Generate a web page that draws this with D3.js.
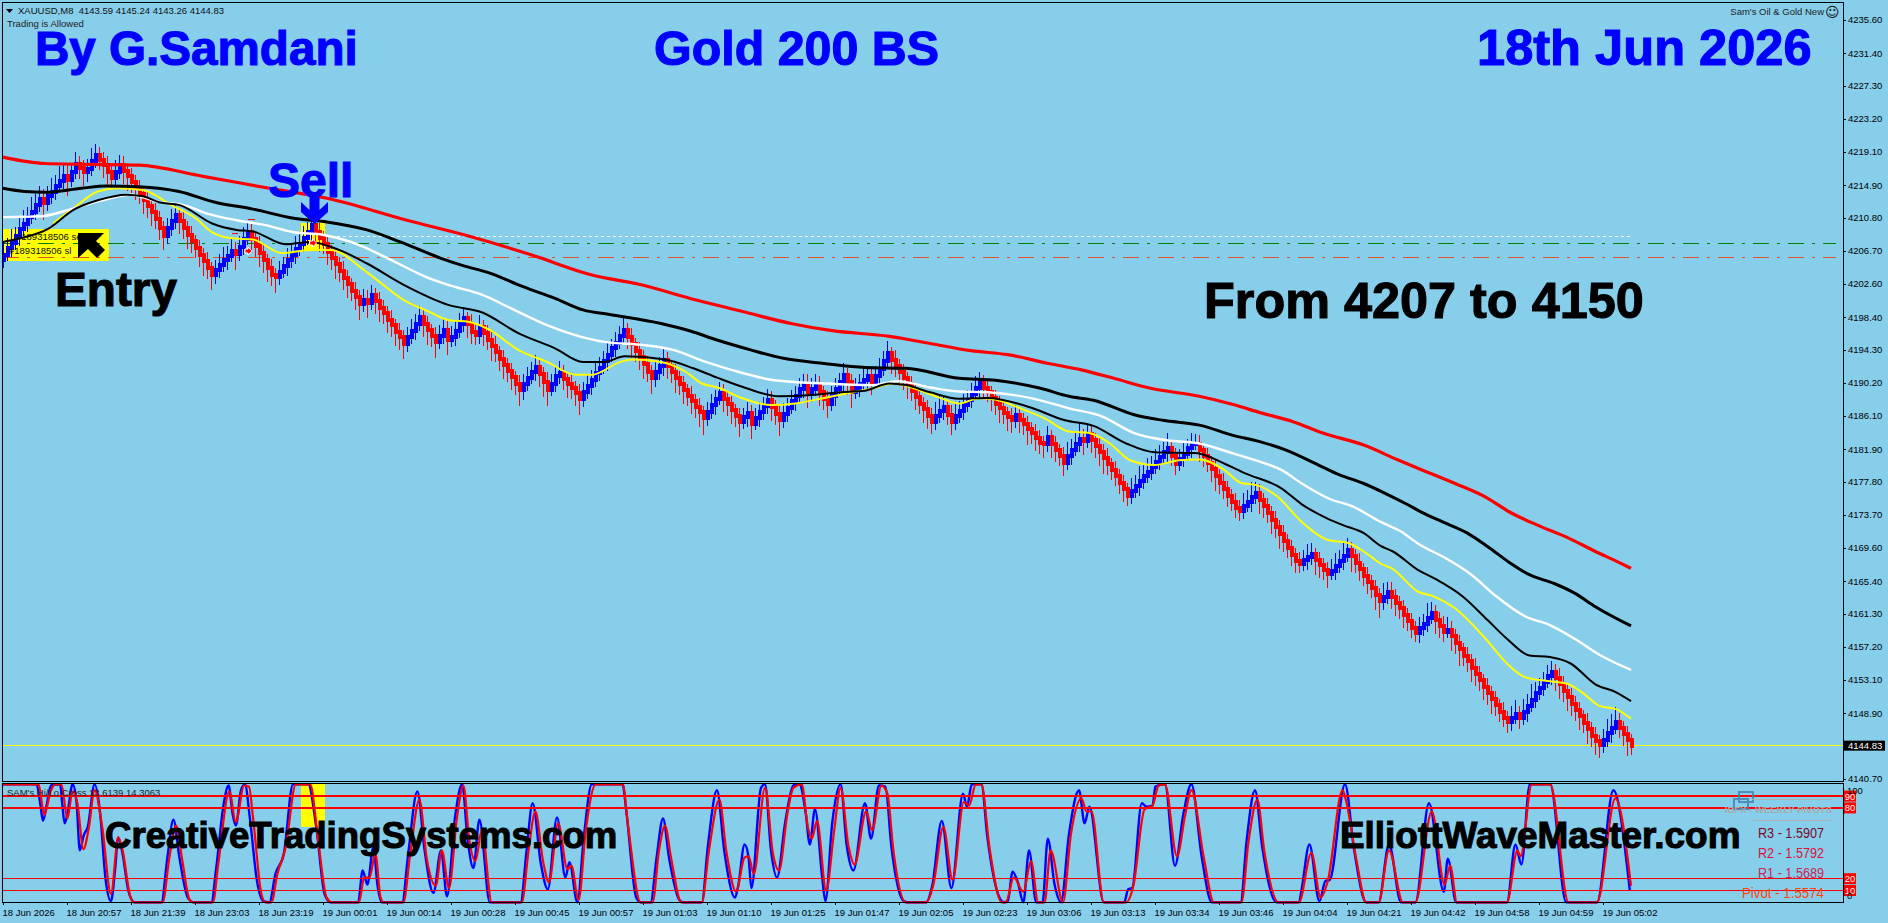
<!DOCTYPE html>
<html>
<head>
<meta charset="utf-8">
<title>XAUUSD M8 Gold 200 BS</title>
<script src="https://cdn.jsdelivr.net/npm/d3@7/dist/d3.min.js"></script>
<style>
  html, body { margin: 0; padding: 0; background: #87ceeb; overflow: hidden; }
  svg { display: block; font-family: "Liberation Sans", Arial, sans-serif; }
  .tick text { font-family: "Liberation Sans", Arial, sans-serif; }
</style>
</head>
<body>
<svg id="chart" width="1888" height="923"></svg>
<script>
// Closing price of every bar on the M8 chart, oldest first.
const closes = [
4206.2,4207.0,4207.7,4208.5,4209.4,4210.1,4210.9,4211.6,4212.4,4213.2,
4212.7,4213.5,4214.1,4214.8,4215.4,4216.1,4215.6,4216.5,4217.5,4217.0,
4216.5,4216.9,4217.9,4218.7,4218.1,4217.4,4216.5,4215.8,4216.6,4217.4,
4216.7,4216.0,4215.3,4214.6,4213.8,4213.1,4212.3,4211.5,4210.7,4209.6,
4208.6,4209.5,4210.4,4211.2,4210.4,4209.5,4208.7,4207.9,4207.0,4206.2,
4205.4,4204.5,4203.7,4204.3,4204.9,4205.5,4206.1,4206.7,4206.3,4207.2,
4208.2,4209.1,4208.2,4207.3,4206.4,4205.5,4204.6,4203.7,4203.4,4204.1,
4204.8,4205.5,4206.2,4206.9,4207.6,4208.3,4209.1,4209.9,4209.1,4208.3,
4207.5,4206.6,4205.8,4205.0,4204.2,4203.3,4202.5,4201.7,4200.9,4200.1,
4200.6,4200.2,4201.2,4200.4,4199.6,4198.9,4198.1,4197.4,4196.6,4195.9,
4195.1,4195.9,4196.7,4197.6,4198.4,4197.6,4196.8,4196.1,4195.3,4196.1,
4196.8,4195.5,4195.9,4196.7,4197.5,4198.3,4197.6,4196.6,4196.2,4197.2,
4196.4,4195.6,4194.8,4194.0,4193.2,4192.4,4191.7,4190.9,4190.1,4189.3,
4190.1,4190.8,4191.5,4192.2,4191.3,4190.3,4189.3,4190.1,4191.0,4191.4,
4190.7,4190.1,4189.5,4188.9,4188.2,4189.0,4189.8,4190.6,4191.4,4192.1,
4192.9,4193.7,4194.5,4195.2,4196.0,4196.8,4195.9,4195.0,4194.2,4193.4,
4192.5,4191.6,4190.8,4191.5,4192.3,4193.0,4192.3,4191.5,4190.8,4190.1,
4189.3,4188.6,4187.9,4187.2,4186.5,4185.8,4186.6,4187.4,4188.2,4188.9,
4188.2,4187.5,4186.8,4186.0,4185.3,4185.9,4186.4,4185.1,4185.8,4186.5,
4187.3,4188.0,4187.2,4186.3,4185.5,4186.3,4187.1,4187.9,4188.6,4189.4,
4190.1,4188.8,4189.4,4189.9,4189.0,4188.2,4187.6,4188.5,4189.4,4190.3,
4191.2,4190.3,4189.0,4189.5,4190.0,4190.5,4191.0,4190.3,4191.0,4191.9,
4192.9,4193.9,4193.1,4192.3,4191.5,4190.8,4190.0,4189.2,4188.4,4187.6,
4186.9,4186.1,4185.3,4186.0,4186.7,4187.2,4186.2,4185.3,4186.0,4186.7,
4187.4,4188.1,4188.8,4189.5,4190.3,4189.6,4189.0,4188.3,4187.6,4187.0,
4186.4,4185.9,4185.5,4186.2,4185.6,4185.0,4184.4,4183.9,4183.3,4182.7,
4182.6,4183.4,4182.6,4181.8,4181.0,4180.2,4181.0,4181.8,4182.5,4183.2,
4182.9,4183.8,4183.1,4182.3,4181.6,4180.8,4180.0,4179.3,4178.5,4177.7,
4176.9,4176.1,4176.7,4177.3,4177.9,4178.5,4179.1,4179.7,4180.3,4180.9,
4181.5,4182.0,4181.0,4180.0,4180.7,4181.3,4182.0,4182.6,4182.6,4181.8,
4181.0,4180.2,4179.4,4178.5,4177.7,4176.9,4176.1,4175.3,4174.6,4174.2,
4174.8,4175.3,4175.9,4176.4,4175.6,4174.8,4173.9,4173.0,4172.2,4171.3,
4170.4,4169.6,4168.7,4167.9,4167.6,4168.0,4168.4,4168.8,4168.0,4167.4,
4166.8,4166.3,4166.7,4167.3,4167.9,4168.6,4169.3,4168.5,4167.7,4166.9,
4166.1,4165.3,4164.5,4163.7,4162.9,4163.4,4164.1,4163.4,4162.7,4162.0,
4161.2,4160.4,4159.6,4158.9,4159.5,4160.1,4160.8,4161.4,4160.6,4159.8,
4159.1,4159.3,4158.5,4157.7,4156.9,4156.1,4155.4,4154.6,4153.8,4153.0,
4152.2,4151.4,4150.7,4149.9,4149.1,4148.3,4147.8,4148.3,4148.8,4148.3,
4149.0,4149.8,4150.6,4151.4,4152.1,4152.8,4153.5,4154.1,4153.3,4152.5,
4151.7,4150.9,4150.1,4149.3,4148.5,4147.7,4146.9,4146.1,4145.4,4144.9,
4145.6,4146.4,4147.1,4147.8,4147.0,4146.3,4145.5,4144.83
];

// Wick lengths per bar, in tenths of a dollar: past the close, and back past the open.
const wickPastClose = [
12,9,14,8,11,13,9,15,10,12,18,9,13,10,15,11,17,8,12,10,
14,9,13,10,9,12,14,10,11,9,13,15,10,12,9,14,11,13,9,12,
15,10,12,9,13,10,14,11,9,12,15,10,16,9,11,13,8,12,16,10,
11,9,13,10,14,12,15,11,16,10,8,12,9,13,10,11,9,12,10,14,
9,13,11,15,10,12,14,9,13,17,10,15,9,12,14,10,13,11,15,12,
16,9,11,8,10,13,15,11,16,10,12,15,10,9,11,10,14,12,9,11,
13,10,15,9,12,14,10,13,11,17,8,10,9,11,13,15,17,9,10,12,
11,14,10,13,17,9,11,8,12,10,9,11,8,10,9,12,11,14,10,13,
15,10,16,9,8,11,13,10,15,11,14,9,12,10,15,18,9,11,8,10,
13,11,14,10,15,8,11,16,9,10,8,11,14,10,16,10,9,11,8,10,
9,14,11,10,13,11,15,9,10,8,11,13,16,9,10,12,9,13,10,11,
9,12,14,10,13,11,15,9,12,10,14,13,11,15,17,10,9,13,15,9,
11,8,10,12,9,10,8,13,11,15,10,14,12,9,13,10,16,10,13,11,
15,10,14,12,9,13,15,10,12,17,14,9,13,11,15,17,10,9,8,10,
13,9,12,10,15,11,14,10,13,12,9,16,8,10,9,11,8,10,9,11,
10,8,13,15,10,9,11,8,10,9,13,11,15,10,14,12,9,13,11,15,
10,9,10,11,8,10,13,10,15,12,9,14,11,13,10,15,12,16,9,11,
10,12,9,15,17,14,9,11,13,10,13,9,10,8,11,9,15,11,14,12,
10,13,15,11,17,9,10,14,12,10,13,11,15,10,9,8,10,12,14,10,
13,11,16,10,8,9,11,10,13,15,11,14,12,10,13,9,15,11,14,12,
10,14,13,15,9,11,16,8,10,11,9,12,8,10,9,11,13,15,10,14,
12,9,13,11,15,10,14,17,11,8,9,10,14,11,16
];
const wickPastOpen = [
4,2,5,3,6,2,4,3,5,2,6,4,3,5,2,4,7,3,2,5,
4,6,3,2,4,3,5,2,4,3,6,2,5,3,4,2,5,3,6,4,
2,5,3,4,2,6,3,5,2,4,3,6,2,5,4,3,6,2,5,3,
4,2,5,3,6,4,2,5,3,4,2,6,3,5,2,4,3,6,2,5,
3,4,2,5,3,6,4,2,5,3,4,6,3,2,5,4,3,6,2,5,
3,4,2,5,3,6,4,2,5,3,4,6,2,5,3,4,2,6,3,5,
2,4,3,6,2,5,3,4,2,5,6,3,2,5,4,3,6,2,5,3,
4,2,5,3,6,4,2,5,3,4,2,6,3,5,2,4,3,6,2,5,
3,4,2,5,3,6,4,2,5,3,4,2,6,3,5,2,4,3,6,2,
5,3,4,2,5,3,6,4,2,5,3,4,6,2,5,3,4,2,6,3,
5,6,4,3,5,2,4,3,6,2,5,3,4,2,5,3,6,4,2,5,
3,4,2,6,3,5,2,4,3,6,2,5,3,4,2,5,3,6,4,2,
5,3,4,2,6,3,5,2,4,3,6,2,5,3,4,2,5,3,6,4,
2,5,3,4,2,6,3,5,2,4,6,3,5,2,4,3,6,2,5,3,
4,2,5,3,6,4,2,5,3,4,2,6,3,5,2,4,3,6,2,5,
3,4,2,5,3,6,4,2,5,3,4,2,6,3,5,2,4,3,6,2,
5,3,4,2,5,3,6,4,2,5,3,4,2,6,3,5,2,4,3,6,
2,5,3,4,2,5,3,6,4,2,5,3,4,2,6,3,5,2,4,3,
6,2,5,3,4,2,5,3,6,4,2,5,3,4,2,6,3,5,2,4,
3,6,2,5,3,4,2,5,3,6,4,2,5,3,4,2,6,3,5,2,
4,3,6,2,5,3,4,2,5,3,6,4,2,5,3,4,2,6,3,5,
2,4,3,6,2,5,3,4,2,5,3,6,4,2,5,3,4,2,6
];

// Moving averages as [bar, price] readings.
const maRed = [[0,4218.4],[10.5,4217.6],[34,4217.4],[50,4216],[66.6,4214.5],[81,4213.25],[101,4210.5],[116.6,4208.5],[132,4206.2],[147,4203.7],[159,4202.5],
[173.6,4200.5],[184.9,4199.1],[197,4197.6],[207.3,4196.7],[221.6,4196],[231.8,4195.1],[242,4194.2],[251.2,4193.7],[261.4,4192.6],[269.6,4191.8],[277.7,4190.75],[286.9,4189.5],[299.1,4188.5],[307.3,4187.5],
[314.4,4186.45],[322.7,4185.3],[330,4183.9],[340.2,4182.4],[348.5,4180.6],[353.7,4179.5],[363,4177.6],[371.2,4175.75],[376.4,4174.1],[383.6,4172.4],[390.9,4170.9],[398.1,4169.1],[403.3,4167.9],[407,4167]];
const maBlackSlow = [[0,4214.5],[5.4,4214.1],[10.5,4214],[19.6,4214.5],[25.8,4214.8],[34,4214.7],[44,4214.1],[53,4212.75],[62.5,4211.9],[72.7,4210.75],[81,4210.3],[91,4209.3],[99.3,4207.8],[109.5,4205.75],[114.6,4204.9],[121.7,4203.9],[130,4202.2],[138,4200.75],[145,4199.3],[152,4198.7],
[164.5,4197.6],[171.6,4196.7],[178.7,4195.5],[186.9,4194.3],[195.1,4193.25],[205.3,4192.6],[215.5,4192.1],[225.7,4192],[239,4190.75],[248.1,4190.5],[259.4,4189.5],[266.5,4188.5],[272.6,4188],[282.8,4186.2],[290,4185.5],[299.1,4184.9],[307.3,4183.65],
[314.4,4182.8],[320.6,4181.8],[328.9,4179.9],[334,4178.7],[340.2,4177.6],[345.4,4176.4],[350.6,4175.1],[354.7,4174],[359.9,4172.8],[366.1,4171.4],[371.2,4169.7],[376.4,4167.8],[381.6,4166.2],[387.8,4165.1],[392.9,4163.9],[398.1,4162.2],[407,4159.8]];
const maWhite = [[0,4210.9],[9.5,4211],[17.6,4212],[24.8,4213],[31.9,4213.7],[39,4212.8],[45.2,4212.4],[51.3,4211.3],[58.4,4210.5],[65.6,4209.9],[72.7,4209],[79.9,4208.7],[87,4207.8],[96.2,4205.75],[105.4,4203.5],[111.5,4202.4],[119.7,4201.2],[127.8,4199.3],[136,4197.4],[144.1,4196],[150.3,4195.3],
[160.4,4194.9],[167.5,4194.3],[175.7,4192.8],[182.8,4191.7],[193,4190.5],[205.3,4190.1],[217.5,4189.9],[223.6,4190.4],[231.8,4189.6],[239,4189.1],[246.1,4189],[257.3,4188.25],[266.5,4187],[274.7,4186],[282.8,4183.9],[291,4183],[299.1,4182.6],[307.3,4181.4],
[314.4,4180.3],[319.6,4179.3],[324.7,4177.6],[332,4175.6],[337.1,4174.8],[344.4,4172.8],[349.5,4171.6],[353.7,4170.1],[360.9,4168.2],[367.1,4166.2],[373.3,4163.5],[380.5,4161],[386.7,4159.9],[392.9,4158.2],[399.1,4156.2],[407,4154.3]];
const maBlackFast = [[0,4207.8],[4.35,4208.25],[11.5,4209.5],[17.6,4211.8],[23.7,4213],[30.9,4213.7],[35,4213.5],[39,4212.75],[44.2,4212.4],[52.3,4210.1],[58.4,4209.3],[62.5,4209.1],[70.7,4207.5],[76.8,4207.8],[84,4206.8],[91,4205.1],[100.3,4202.4],[111.5,4199.9],[119.7,4199],[128.8,4196.4],[138,4194.5],[145,4192.8],[150.3,4192.8],[155.4,4193.5],
[165.5,4193.1],[172.6,4192],[178.7,4190.8],[185.9,4189.5],[194,4188.5],[202.2,4188.65],[209.4,4189],[215.5,4189.2],[221.6,4190.1],[225.7,4189.9],[231.8,4189],[239,4188.2],[246.1,4188.3],[256.3,4187.2],[265.5,4185.5],[272.6,4184.8],[280.8,4182.6],[287.9,4181.5],[298.1,4181.4],[305.3,4180.1],[310.4,4178.9],
[319.6,4177],[324.7,4175],[331,4173.25],[335,4172.4],[340.2,4171.4],[344.4,4169.8],[347.5,4169.1],[353.7,4166.8],[357.8,4165.75],[365,4163.45],[371.2,4160.5],[376.4,4158],[381.6,4156.1],[386.7,4155.9],[391.9,4155.1],[398.1,4152.5],[403.3,4151.5],[407,4150.4]];
const maYellow = [[12.5,4210.1],[17.6,4212],[23.7,4214.1],[28.8,4214.5],[35,4214.3],[42.1,4212.4],[48.2,4210.75],[52.3,4209],[57.4,4208.25],[62.5,4208.1],[69.7,4206.4],[76.8,4206.8],[81.9,4206.8],[91,4204],[100.3,4200.5],[106.4,4199.1],[111.5,4198],[116.6,4197.8],[121.7,4196.8],[128.8,4194.3],[136,4192.8],[143.1,4191.2],[147.2,4191.2],[154.4,4192.8],
[157.3,4193.1],[164.5,4192.8],[170.6,4191.6],[174.7,4190.1],[178.7,4189.6],[184.9,4188.25],[192,4187.4],[198.1,4187.6],[205.3,4188.3],[211.4,4188.9],[217.5,4189.5],[222.6,4190.1],[227.7,4189.5],[233.8,4188.4],[239,4187.6],[244,4188.25],[248.1,4188.1],[254.25,4187],[260.4,4185.75],[266.5,4184.1],[271.6,4183.9],[276.7,4182.6],[281.8,4180.5],[287.9,4179.9],[294,4180.5],[299.1,4180.6],[305.3,4179.3],[309.4,4177.7],
[313.4,4177.4],[318.5,4176],[324.7,4172.8],[331.5,4170.5],[336.1,4170.2],[340.2,4169.1],[344.4,4167.6],[347.5,4166.9],[353.7,4164.1],[357.8,4163.45],[363,4162],[370.2,4158.45],[376.4,4154.9],[380.5,4153.4],[384.7,4153],[390.9,4152.6],[395,4151.4],[399.1,4149.8],[403.3,4149.4],[407,4148.2]];

// Hi/Lo cross oscillator as [bar, value] readings, main and signal.
const stochMain = [[0,100],[8.4,100],[9.3,84],[10,69],[11,84],[12,99],[14.3,100],[14.8,84],[15.4,67],[16.1,75],[17.4,100],[18.4,84],[19.2,44],[20.2,57],[21.2,64],[22.9,100],[24.3,75],[25.6,21],[27,1],[28,27],[28.8,55],[29.9,41],[31.4,9],[32.9,0],[39.6,0],[41.1,38],[42.6,70],[44.1,38],[46.2,4],[47.7,0],[52.1,0],[53.3,29],[55.2,84],[56.4,99],[57.4,75],[58.2,65],[59.5,95],[60.5,100],[61.7,72],[63.5,18],[65.1,1],[66.6,0],[68.1,24],[70.2,41],[72.5,100],[76.3,100],[78.3,64],[80.4,7],[81.9,0],[88.8,0],[89.9,27],[91.1,15],[92.6,47],[93.6,15],[94.7,0],[99.8,0],[101.3,41],[103.6,94],[105.4,44],[107.6,8],[109.5,44],[111,5],[113,72],[114.8,100],[116.1,55],[117.6,29],[119.1,70],[121.7,0],[129.4,0],[130.9,44],[132.4,84],[134.5,32],[136.2,11],[138.5,72],[140.6,21],[141.6,34],[143.6,0],[145.2,55],[147.2,100],[154.9,100],
[155.8,78],[158.3,4],[159.4,0],[161.9,0],[163.4,38],[165,71],[166.5,38],[169.1,2],[170.1,0],[174.7,0],[176.2,47],[178.5,95],[180.3,44],[183,4],[183.8,14],[185.4,49],[186.4,38],[187.1,12],[189.5,97],[190.5,100],[192,44],[193.5,21],[195.6,69],[197.6,99],[199.1,100],[200.7,75],[201.7,49],[203,79],[204.8,21],[205.6,1],[207.3,67],[209.4,100],[210.9,49],[212.6,27],[215.5,84],[217,54],[219,99],[220.6,98],[222.1,47],[225.2,1],[226.2,0],[230.8,0],[232.3,14],[234.7,69],[237.1,12],[240,92],[241,81],[242.2,100],[244.6,100],[246.1,55],[249.1,4],[250.2,0],[251.2,1],[252.4,26],[253.7,17],[255.1,0],[256.5,44],[258.3,0],[259.9,0],[261.2,54],[262.9,15],[264.5,0],[266.5,58],[269,95],[270.4,67],[271.6,81],[275.2,0],[280.3,0],[281.3,11],[282.3,12],[284.7,84],[285.9,81],[287.4,82],[288.1,98],[290.5,100],[293,31],[295.1,75],[297.1,100],[299.7,38],[302.2,0],[309.4,0],[310.9,52],[313,95],
[314.8,47],[318.4,0],[324,0],[324.7,12],[326.6,49],[329.1,1],[330.6,18],[331.7,19],[335.5,100],[337.8,44],[340.8,0],[343.9,0],[346.5,49],[349.5,0],[353.1,0],[356.5,84],[360.2,9],[361.2,37],[363.3,0],[376,0],[378.1,49],[379.6,32],[381.7,100],[386.8,100],[390.8,0],[398.5,0],[402.6,95],[406.7,10]];
const stochSignal = [[0,100],[8.9,100],[10.3,74],[12,95],[13,100],[14.6,100],[16.1,71],[17.4,94],[18.6,84],[20.1,45],[21.5,64],[22.9,95],[24.8,64],[27,7],[28.8,55],[29.9,44],[31.9,4],[32.9,0],[39.9,0],[41.6,38],[43.3,65],[44.7,38],[46.7,2],[47.7,0],[52.5,0],[53.8,32],[56.6,94],[58.2,68],[60.3,99],[61.5,98],[62.5,72],[64.6,7],[65.6,0],[67.1,0],[68.6,24],[70.7,47],[73.2,100],[76.8,100],[78.8,52],[80.9,4],[82.4,0],[89,0],[90.3,21],[91.6,21],[93.1,41],[94.4,4],[95.2,0],[100.1,0],[101.8,41],[104.1,87],[105.9,38],[108.2,14],[109.7,44],[111.5,12],[113.5,72],[115.1,99],[116.6,52],[118.1,35],[119.7,61],[122.2,0],[129.7,0],[131.4,44],[133.1,77],[135,35],[136.5,17],[138.8,67],[141.1,28],[142.1,31],[143.9,2],[145.7,61],[148.2,100],[154.9,100],
[156.3,64],[159.4,0],[162.4,0],[164,44],[165.5,65],[167,38],[169.6,0],[174.7,0],[176.5,44],[179.1,87],[180.8,44],[183.3,9],[185.4,38],[186.4,39],[187.7,24],[190.5,97],[192.5,41],[194,27],[196.1,75],[197.6,97],[199.7,100],[201.2,64],[202.2,54],[203.5,69],[205.8,10],[207.8,61],[209.4,97],[211.4,47],[212.9,32],[215.8,77],[217.3,61],[219.6,99],[221.1,92],[222.6,44],[225.7,0],[230.8,0],[232.6,15],[235.1,64],[237.4,19],[240.2,85],[241.5,82],[243.2,100],[244.6,100],[246.6,47],[249.7,0],[250.7,0],[252.7,21],[255.1,9],[257,35],[258.8,0],[260.4,0],[261.9,44],[265,0],[267,58],[269.6,88],[270.9,77],[272.1,77],[275.2,0],[280.8,0],[282.6,14],[285.4,79],[287.4,82],[288.9,99],[290.5,100],[293.5,39],[295.6,75],[297.1,95],[300.2,38],[302.7,0],[309.6,0],[311.4,52],[313.6,87],
[315.3,44],[318.9,0],[324,0],[327.1,42],[329.4,4],[331.2,18],[334.9,95],[335.7,87],[338.3,37],[340.8,0],[343.9,0],[346.5,44],[350,0],[353.1,0],[357.2,77],[360.4,15],[361.8,31],[363.5,0],[376,0],[378.6,44],[379.4,39],[382.2,100],[386.8,100],[391.4,0],[398.5,0],[403.1,88],[407,14]];
const stochLevels = [90, 80, 20, 10];

// Axis labels.
const priceTicks = [4235.6,4231.4,4227.3,4223.2,4219.1,4214.9,4210.8,4206.7,4202.6,4198.4,4194.3,4190.2,4186.1,4181.9,4177.8,4173.7,4169.6,4165.4,4161.3,4157.2,4153.1,4148.9,4140.7];
const timeLabels = ["18 Jun 2026","18 Jun 20:57","18 Jun 21:39","18 Jun 23:03","18 Jun 23:19","19 Jun 00:01","19 Jun 00:14","19 Jun 00:28","19 Jun 00:45","19 Jun 00:57","19 Jun 01:03","19 Jun 01:10","19 Jun 01:25","19 Jun 01:47","19 Jun 02:05","19 Jun 02:23","19 Jun 03:06","19 Jun 03:13","19 Jun 03:34","19 Jun 03:46","19 Jun 04:04","19 Jun 04:21","19 Jun 04:42","19 Jun 04:58","19 Jun 04:59","19 Jun 05:02"];
const barsPerLabel = 16;

// Trade levels and the current quote.
const lastPrice = 4144.83;
const takeLevel = 4208.5, entryLevel = 4207.6, stopLevel = 4205.9;
const tradeMarkers = [[61.25,4206.66],[77.4,4207.66]];
const pivotRows = [["R3 - 1.5907","#7a0a2a",66],["R2 - 1.5792","#dc143c",66],["R1 - 1.5689","#c8285a",66],["Pivot - 1.5574","#ff4500",82]];

const svg = d3.select("#chart");
const bg = "#87ceeb";
svg.append("rect").attr("width", 1888).attr("height", 923).attr("fill", bg);

const x = d3.scaleLinear().domain([0, 407]).range([3, 1631]);
const y = d3.scaleLinear().domain([4235.6, 4140.7]).range([19.5, 778.7]);
const yS = d3.scaleLinear().domain([0, 100]).range([902.3, 784.3]);

const frameRight = 1843;

// Highlight boxes sit under everything else.
const yellow = "#ffff00";
svg.append("rect").attr("x", 3).attr("y", 229).attr("width", 106).attr("height", 32).attr("fill", yellow);
svg.append("rect").attr("x", 301).attr("y", 223).attr("width", 24).attr("height", 27).attr("fill", yellow);
svg.append("rect").attr("x", 301).attr("y", 784).attr("width", 24).attr("height", 43).attr("fill", yellow);

// Trade level lines.
const levelGroup = svg.append("g").attr("shape-rendering", "crispEdges");
levelGroup.append("line").attr("x1", 325).attr("x2", 1630).attr("y1", y(takeLevel)).attr("y2", y(takeLevel))
  .attr("stroke", "#fff").attr("stroke-dasharray", "3 3");
levelGroup.append("line").attr("x1", 3).attr("x2", 1836).attr("y1", y(entryLevel)).attr("y2", y(entryLevel))
  .attr("stroke", "#008000").attr("stroke-dasharray", "16 8 3 8");
levelGroup.append("line").attr("x1", 3).attr("x2", 1836).attr("y1", y(stopLevel)).attr("y2", y(stopLevel))
  .attr("stroke", "#e2502a").attr("stroke-dasharray", "16 8 3 8");
levelGroup.append("line").attr("x1", 3).attr("x2", frameRight).attr("y1", y(lastPrice)).attr("y2", y(lastPrice))
  .attr("stroke", "#ffff00");

// Bars: a thin high/low wick through a body that runs slightly past open and close.
const bodyPad = 0.25, wickBase = 0.35;
const bars = closes.map((c, i) => {
  const o = i ? closes[i - 1] : c - 0.7;
  const up = c >= o;
  const t = wickPastClose[i] / 10 + wickBase, b = wickPastOpen[i] / 10 + wickBase + bodyPad;
  return { i, o, c, up,
           high: up ? c + t : o + b,
           low: up ? o - b : c - t };
});
const barGroup = svg.append("g").attr("shape-rendering", "crispEdges");
barGroup.selectAll("line").data(bars).join("line")
  .attr("x1", d => x(d.i)).attr("x2", d => x(d.i))
  .attr("y1", d => y(d.high)).attr("y2", d => y(d.low))
  .attr("stroke", d => d.up ? "#0000ff" : "#ff0000").attr("stroke-width", 1);
barGroup.selectAll("rect").data(bars).join("rect")
  .attr("x", d => x(d.i) - 1.5).attr("width", 4)
  .attr("y", d => y(Math.max(d.o, d.c) + bodyPad))
  .attr("height", d => y(Math.min(d.o, d.c) - bodyPad) - y(Math.max(d.o, d.c) + bodyPad))
  .attr("fill", d => d.up ? "#0000ff" : "#ff0000");

// Moving averages.
const line = d3.line().curve(d3.curveMonotoneX).x(d => x(d[0])).y(d => y(d[1]));
[[maYellow, "#ffff00", 2], [maWhite, "#ffffff", 2.4], [maBlackFast, "#000000", 2],
 [maBlackSlow, "#000000", 3], [maRed, "#ff0000", 3.2]].forEach(([pts, color, w]) => {
  svg.append("path").attr("d", line(pts)).attr("fill", "none")
    .attr("stroke", color).attr("stroke-width", w);
});

// Short red stop ticks and the trade arrows.
[[61.25, 4210.66, 7], [57.25, 4208.9, 6]].forEach(([i, p, w]) => {
  svg.append("rect").attr("x", x(i)).attr("y", y(p)).attr("width", w).attr("height", 1).attr("fill", "#ff0000");
});
svg.selectAll(".trade").data(tradeMarkers).join("path").attr("class", "trade")
  .attr("transform", d => `translate(${x(d[0])},${y(d[1])})`)
  .attr("d", "M-3,-2H0V-4L4,0L0,4V2H-3Z")
  .attr("fill", "#ff0000").attr("stroke", "#fff").attr("stroke-width", 1);

// Oscillator pane.
const stochLine = d3.line().curve(d3.curveMonotoneX).x(d => x(d[0])).y(d => yS(d[1]));
svg.append("path").attr("d", stochLine(stochMain)).attr("fill", "none").attr("stroke", "#0000ff").attr("stroke-width", 2.4);
svg.append("path").attr("d", stochLine(stochSignal)).attr("fill", "none").attr("stroke", "#ff0000").attr("stroke-width", 2.2);
svg.selectAll(".level").data(stochLevels).join("line").attr("class", "level")
  .attr("x1", 3).attr("x2", frameRight).attr("y1", d => yS(d)).attr("y2", d => yS(d))
  .attr("stroke", "#ff0000").attr("stroke-width", 1.5).attr("shape-rendering", "crispEdges");

// Pane frames.
const frame = svg.append("g").attr("fill", "none").attr("stroke", "#000").attr("shape-rendering", "crispEdges");
frame.append("rect").attr("x", 2.5).attr("y", 2.5).attr("width", frameRight - 2.5).attr("height", 779);
frame.append("rect").attr("x", 2.5).attr("y", 783.5).attr("width", frameRight - 2.5).attr("height", 118.5);

// Price and time axes.
const priceAxis = svg.append("g").attr("transform", `translate(${frameRight},0)`)
  .call(d3.axisRight(y).tickValues(priceTicks).tickSize(3).tickPadding(2).tickFormat(d3.format(".2f")));
const timeAxis = svg.append("g").attr("transform", "translate(0,902)")
  .call(d3.axisBottom(x).tickValues(timeLabels.map((_, k) => k * barsPerLabel)).tickSize(3).tickPadding(4)
    .tickFormat((d) => timeLabels[d / barsPerLabel]));
[priceAxis, timeAxis].forEach(a => {
  a.select(".domain").remove();
  a.selectAll("text").attr("font-size", 9.5).attr("fill", "#000");
  a.selectAll("line").attr("stroke", "#000").attr("shape-rendering", "crispEdges");
});
timeAxis.selectAll("text").attr("text-anchor", "start").attr("dx", -1);

// Current price tag.
svg.append("rect").attr("x", 1844).attr("y", y(lastPrice) - 5).attr("width", 41).attr("height", 10).attr("fill", "#000");
svg.append("text").attr("x", 1848).attr("y", y(lastPrice) + 3.5).attr("font-size", 9.5).attr("fill", "#ffffff").text(d3.format(".2f")(lastPrice));

// Oscillator scale labels.
svg.selectAll(".lvlBox").data(stochLevels).join("rect").attr("class", "lvlBox")
  .attr("x", 1844).attr("width", 12).attr("y", d => yS(d) - 5.5).attr("height", 11).attr("fill", "#ff0000");
svg.selectAll(".lvlText").data(stochLevels).join("text").attr("class", "lvlText")
  .attr("x", 1850).attr("y", d => yS(d) + 3.5).attr("text-anchor", "middle")
  .attr("font-size", 9.5).attr("fill", "#f0f0f0").text(d => d);
svg.append("text").attr("x", 1847).attr("y", 794).attr("font-size", 9.5).attr("fill", "#000").text("100");
svg.append("text").attr("x", 1847).attr("y", 899).attr("font-size", 9.5).attr("fill", "#000").text("0");

// Window captions.
svg.append("path").attr("d", "M6,9H13L9.5,13Z").attr("fill", "#000");
const small = (tx, ty, s, anchor, fill) => svg.append("text").attr("x", tx).attr("y", ty)
  .attr("font-size", 9.5).attr("fill", fill || "#111").attr("text-anchor", anchor || "start").text(s);
small(18, 14, "XAUUSD,M8\u00a0\u00a04143.59 4145.24 4143.26 4144.83");
small(7, 27, "Trading is Allowed", "start", "#222");
small(1824, 15, "Sam's Oil & Gold New", "end", "#222");
svg.append("text").attr("x", 1825).attr("y", 17).attr("font-family", "DejaVu Sans").attr("font-size", 14).attr("fill", "#111").text("\u263a");
small(7, 796, "SAM's Hi/Lo Cross 13.6139 14.3063", "start", "#222");

// Order labels on the yellow box.
small(16, 240, "#189318506 sell");
small(9, 254, "#189318506 sl");

// Entry arrow pointing up and left.
svg.append("path").attr("d", "M78,233H104L96,241L105,250L97,258L88,249L78,258Z").attr("fill", "#000");

// Sell arrow pointing down.
svg.append("path").attr("d", "M309.5,197H319.5V210L328,202V212L314.5,224L301,212V202L309.5,210Z").attr("fill", "#0000ff");

// Headline text, weighted with a fine outline.
const big = (tx, ty, s, size, fill) => svg.append("text").attr("x", tx).attr("y", ty)
  .attr("font-size", size).attr("font-weight", "bold").attr("fill", fill)
  .attr("stroke", fill).attr("stroke-width", 1.1).text(s);
big(35, 65, "By G.Samdani", 47.6, "#0000ff");
big(654, 65, "Gold 200 BS", 48.4, "#0000ff");
big(1477, 65, "18th Jun 2026", 50.6, "#0000ff");
big(268, 197, "Sell", 48, "#0000ff");
big(55, 306, "Entry", 47.7, "#000");
big(1204, 318, "From 4207 to 4150", 50.4, "#000");
big(105, 848, "CreativeTradingSystems.com", 36.6, "#000");
big(1340, 848, "ElliottWaveMaster.com", 36.9, "#000");

// Weekly pivots panel.
const logo = svg.append("g").attr("fill", "none").attr("stroke", "#4682b4").attr("stroke-width", 2).attr("opacity", 0.85);
logo.append("rect").attr("x", 1739).attr("y", 792).attr("width", 14).attr("height", 10);
logo.append("rect").attr("x", 1734).attr("y", 799).attr("width", 14).attr("height", 10);
[799.5, 820.5].forEach(ly => svg.append("line").attr("x1", 1752).attr("x2", 1832).attr("y1", ly).attr("y2", ly)
  .attr("stroke", "#b0b0b0").attr("shape-rendering", "crispEdges"));
svg.append("text").attr("x", 1832).attr("y", 813).attr("text-anchor", "end").attr("font-size", 9.5)
  .attr("fill", "#a9a9a9").attr("font-weight", "bold").text("IBFX - WEEKLY PIVOTS");
svg.selectAll(".pivot").data(pivotRows).join("text").attr("class", "pivot")
  .attr("x", 1824).attr("y", (d, k) => 838 + k * 20).attr("text-anchor", "end")
  .attr("font-size", 14).attr("textLength", d => d[2]).attr("lengthAdjust", "spacingAndGlyphs")
  .attr("fill", d => d[1]).text(d => d[0]);
</script>
</body>
</html>
